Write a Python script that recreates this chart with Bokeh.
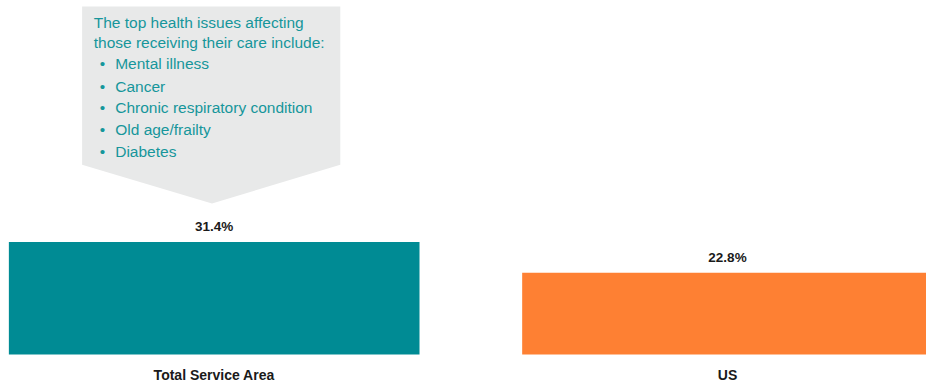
from bokeh.plotting import figure
from bokeh.models import ColumnDataSource, Range1d
from bokeh.core.properties import value
from bokeh.embed import file_html
from bokeh.resources import INLINE

# ---- data ----
categories = ["Total Service Area", "US"]
values = [31.4, 22.8]
bar_colors = ["#008b94", "#fe8033"]
value_labels = ["31.4%", "22.8%"]
callout_title = ["The top health issues affecting", "those receiving their care include:"]
callout_items = ["Mental illness", "Cancer", "Chronic respiratory condition", "Old age/frailty", "Diabetes"]

W, H = 926, 382
XS, XE = -0.4163, 1.3877
YS, YE = -7.85, 98.85

p = figure(width=W, height=H, output_backend="svg", toolbar_location=None,
           x_range=Range1d(XS, XE), y_range=Range1d(YS, YE),
           x_axis_location=None, y_axis_location=None, min_border=0)
p.outline_line_color = None
p.grid.visible = False
p.background_fill_color = "white"
p.border_fill_color = "white"

ppx = W / (XE - XS)
ppy = H / (YE - YS)
def dx(fx):
    return XS + fx / ppx
def dy(fy):
    return YE - fy / ppy

# callout shape (screen pixel layout converted to data space)
shape_x = [dx(v) for v in [81.6, 339.8, 339.8, 211.5, 81.6]]
shape_y = [dy(v) for v in [5.9, 5.9, 164.3, 203.0, 164.3]]
p.patch(shape_x, shape_y, fill_color="#e8e9e9", line_color=None)

teal_text = "#16969b"
font = value("Liberation Sans")
fs = "15.5px"
title_y = [22.2, 41.7]
for t, fy in zip(callout_title, title_y):
    p.text(x=[dx(93.2)], y=[dy(fy)], text=[t], text_font=font, text_font_size=fs,
           text_color=teal_text, text_baseline="alphabetic", text_align="left")
item_y = [62.9, 85.8, 107.0, 129.2, 151.1]
for t, fy in zip(callout_items, item_y):
    p.text(x=[dx(99.3)], y=[dy(fy)], text=["•"], text_font=font, text_font_size=fs,
           text_color=teal_text, text_baseline="alphabetic", text_align="left")
    p.text(x=[dx(114.7)], y=[dy(fy)], text=[t], text_font=font, text_font_size=fs,
           text_color=teal_text, text_baseline="alphabetic", text_align="left")

xs = list(range(len(categories)))
src = ColumnDataSource(dict(x=xs, top=values, color=bar_colors, lab=value_labels,
                            cat=categories, zero=[0] * len(xs)))
p.vbar(x="x", top="top", width=0.8, bottom=0, fill_color="color", line_color=None, source=src)

p.text(x="x", y="top", text="lab", source=src, text_font=font, text_font_style="bold",
       text_font_size="13.5px", text_color="#1a1a1a", text_align="center",
       text_baseline="alphabetic", y_offset=-15.5)
p.text(x="x", y="zero", text="cat", source=src, text_font=font, text_font_style="bold",
       text_font_size="14px", text_color="#1a1a1a", text_align="center",
       text_baseline="alphabetic", y_offset=21)

open("out.html", "w").write(file_html(p, INLINE))
